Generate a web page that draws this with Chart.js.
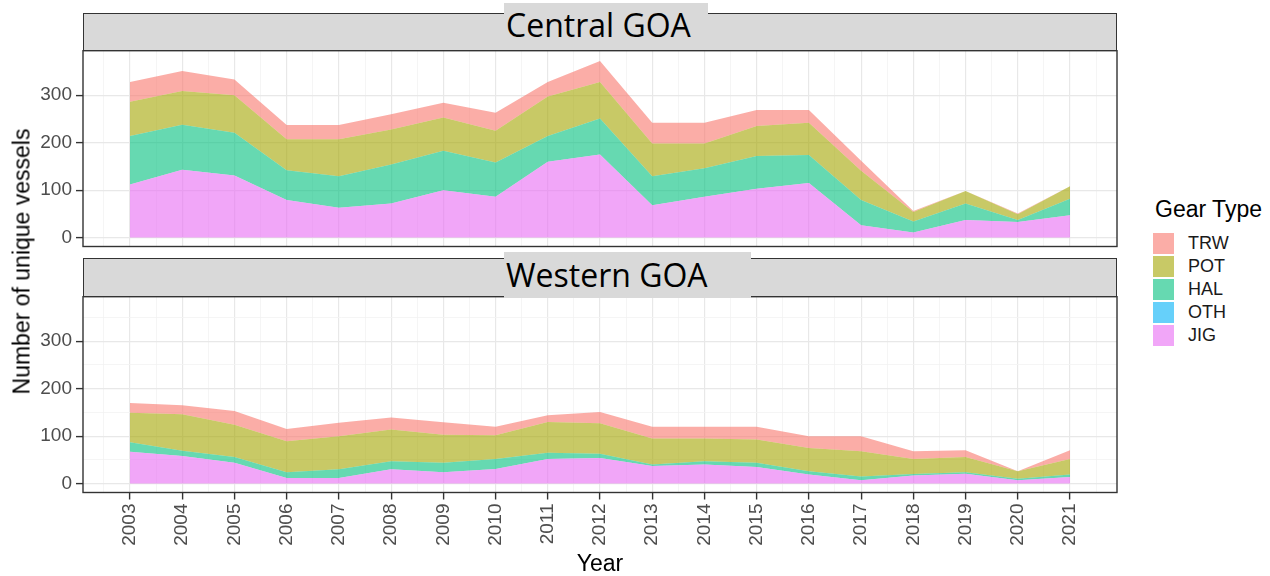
<!DOCTYPE html>
<html>
<head>
<meta charset="utf-8">
<script src="https://cdn.jsdelivr.net/npm/chart.js@4.4.0/dist/chart.umd.min.js"></script>
<style>
body{margin:0;width:1270px;height:576px;background:#fff;position:relative;overflow:hidden;font-family:"Liberation Sans",Arial,sans-serif;}
canvas{position:absolute;left:0;}
.strip{position:absolute;left:83px;width:1034px;background:#d9d9d9;border:1.4px solid #333;box-sizing:border-box;}
.facet{position:absolute;left:504px;background:#d9d9d9;font-family:"Open Sans",sans-serif;font-size:32px;line-height:32px;color:#000;padding-left:2px;box-sizing:border-box;z-index:2;}
.ytitle{position:absolute;left:-178px;top:249.5px;width:400px;height:23px;line-height:23px;font-size:23px;text-align:center;transform:rotate(-90deg);color:#000;}
.xtitle{position:absolute;left:500px;top:552px;width:200px;line-height:23px;font-size:23px;text-align:center;color:#000;}
#legend{position:absolute;left:1153px;top:198px;}
#legend .ttl{font-size:23px;line-height:23px;margin-left:2px;margin-bottom:11px;color:#000;}
#legend .row{display:flex;align-items:center;height:23px;}
#legend .key{width:21px;height:21px;margin-right:14px;}
#legend .lab{font-size:18px;color:#1a1a1a;}
</style>
</head>
<body>
<canvas id="central" width="1125" height="206" style="top:45px"></canvas>
<canvas id="western" width="1125" height="270" style="top:291px"></canvas>

<div class="strip" style="top:12.5px;height:38.8px"></div>
<div class="facet" style="top:3px;width:204px;height:44px;padding-top:6px">Central GOA</div>
<div class="strip" style="top:258px;height:39.4px"></div>
<div class="facet" style="top:252px;width:247px;height:45.8px;padding-top:6.5px">Western GOA</div>

<div class="ytitle">Number of unique vessels</div>
<div class="xtitle">Year</div>
<div id="legend"></div>

<script>
// years on the x axis
const years = [2003,2004,2005,2006,2007,2008,2009,2010,2011,2012,2013,2014,2015,2016,2017,2018,2019,2020,2021];
const yTicks = [0,100,200,300];
const yMinor = [50,150,250,350];

const gearTypes = ['TRW','POT','HAL','OTH','JIG'];
const gearColors = ['rgba(248,118,109,0.6)','rgba(163,165,0,0.6)','rgba(0,191,125,0.6)','rgba(0,176,246,0.6)','rgba(231,107,243,0.6)'];

// Central GOA
const centralTRW = [42,42,33,30,30,32,31,38,31,44,44,44,34,27,21,2,0,2,0];
const centralPOT = [72,71,79,65,78,74,70,67,83,77,69,52,63,68,62,20,26,12,26];
const centralHAL = [102,95,90,63,66,82,83,72,54,76,61,60,69,59,53,23,35,4,35];
const centralOTH = [0,0,0,0,0,0,0,0,0,0,0,0,0,0,0,0,0,0,0];
const centralJIG = [112,143,131,79,63,72,100,86,160,175,68,86,103,115,26,11,37,33,47];

// Western GOA
const westernTRW = [21,19,29,26,28,25,26,18,14,24,25,25,27,25,32,16,14,0,18];
const westernPOT = [62,77,68,65,70,67,59,50,65,64,55,48,49,49,53,32,32,16,33];
const westernHAL = [20,11,12,12,18,17,20,21,13,9,3,7,9,7,8,3,3,3,5];
const westernOTH = [0,0,0,0,0,0,0,0,0,0,0,0,0,0,0,0,0,0,0];
const westernJIG = [67,58,44,12,12,30,24,31,52,54,37,40,35,19,7,17,21,7,14];

const framePlugin = {
  id:'frame',
  afterDraw(chart){
    const a=chart.chartArea, c=chart.ctx;
    c.save();
    c.strokeStyle='#333';
    c.lineWidth=1.4;
    c.strokeRect(a.left,a.top,a.right-a.left,a.bottom-a.top);
    c.restore();
  }
};

const xMinor = years.map(y=>y-0.5).concat([years[years.length-1]+0.5]);
const tickFont = {family:'Liberation Sans', size:19};

function pts(arr){ return years.map((yr,i)=>({x:yr,y:arr[i]})); }

function makePanel(id, series, showX, canvasH){
  // series ordered TRW,POT,HAL,OTH,JIG ; stack from bottom (JIG first)
  const datasets = [];
  for(let k=gearTypes.length-1;k>=0;k--){
    datasets.push({
      label:gearTypes[k],
      data:pts(series[k]),
      backgroundColor:gearColors[k],
      borderWidth:0,
      pointRadius:0,
      tension:0,
      fill: datasets.length===0 ? 'origin' : '-1'
    });
  }
  const xH = canvasH-5.7-195.8;
  return new Chart(document.getElementById(id),{
    type:'line',
    data:{datasets:datasets},
    plugins:[framePlugin],
    options:{
      responsive:false,
      animation:false,
      devicePixelRatio:1,
      layout:{padding:{top:5.7,right:8,left:0,bottom:showX?0:xH}},
      plugins:{legend:{display:false},tooltip:{enabled:false}},
      scales:{
        x:{
          type:'linear',
          min:2002.1, max:2021.9,
          afterBuildTicks:ax=>{ ax.ticks = years.concat(xMinor).sort((a,b)=>a-b).map(v=>({value:v})); },
          afterFit:ax=>{ ax.height = showX?xH:0; ax.paddingLeft=0; ax.paddingRight=0; },
          border:{display:false},
          grid:{
            color:c=>Number.isInteger(c.tick.value)?'#e8e8e8':'#f3f3f3',
            lineWidth:c=>Number.isInteger(c.tick.value)?1.2:0.8,
            drawTicks:showX,
            tickLength:7,
            tickColor:c=>Number.isInteger(c.tick.value)?'#333':'rgba(0,0,0,0)',
            tickWidth:1.4
          },
          ticks:{
            display:showX,
            autoSkip:false,
            minRotation:90,maxRotation:90,
            padding:4,
            color:'#4d4d4d',
            font:tickFont,
            callback:v=>Number.isInteger(v)?String(v):''
          }
        },
        y:{
          type:'linear',
          stacked:true,
          min:-18.75, max:393.75,
          afterBuildTicks:ax=>{ ax.ticks = yTicks.concat(yMinor).sort((a,b)=>a-b).map(v=>({value:v})); },
          afterFit:ax=>{ ax.width = 83; ax.paddingTop=0; ax.paddingBottom=0; },
          border:{display:false},
          grid:{
            color:c=>yTicks.includes(c.tick.value)?'#e8e8e8':'#f3f3f3',
            lineWidth:c=>yTicks.includes(c.tick.value)?1.2:0.8,
            tickLength:7,
            tickColor:c=>yTicks.includes(c.tick.value)?'#333':'rgba(0,0,0,0)',
            tickWidth:1.4
          },
          ticks:{
            padding:4,
            color:'#4d4d4d',
            font:tickFont,
            callback:v=>yTicks.includes(v)?String(v):''
          }
        }
      }
    }
  });
}

makePanel('central',[centralTRW,centralPOT,centralHAL,centralOTH,centralJIG],false,206);
makePanel('western',[westernTRW,westernPOT,westernHAL,westernOTH,westernJIG],true,270);

// legend
let html='<div class="ttl">Gear Type</div>';
gearTypes.forEach((g,i)=>{
  html += '<div class="row"><div class="key" style="background:'+gearColors[i]+'"></div><div class="lab">'+g+'</div></div>';
});
document.getElementById('legend').innerHTML = html;
</script>
</body>
</html>
